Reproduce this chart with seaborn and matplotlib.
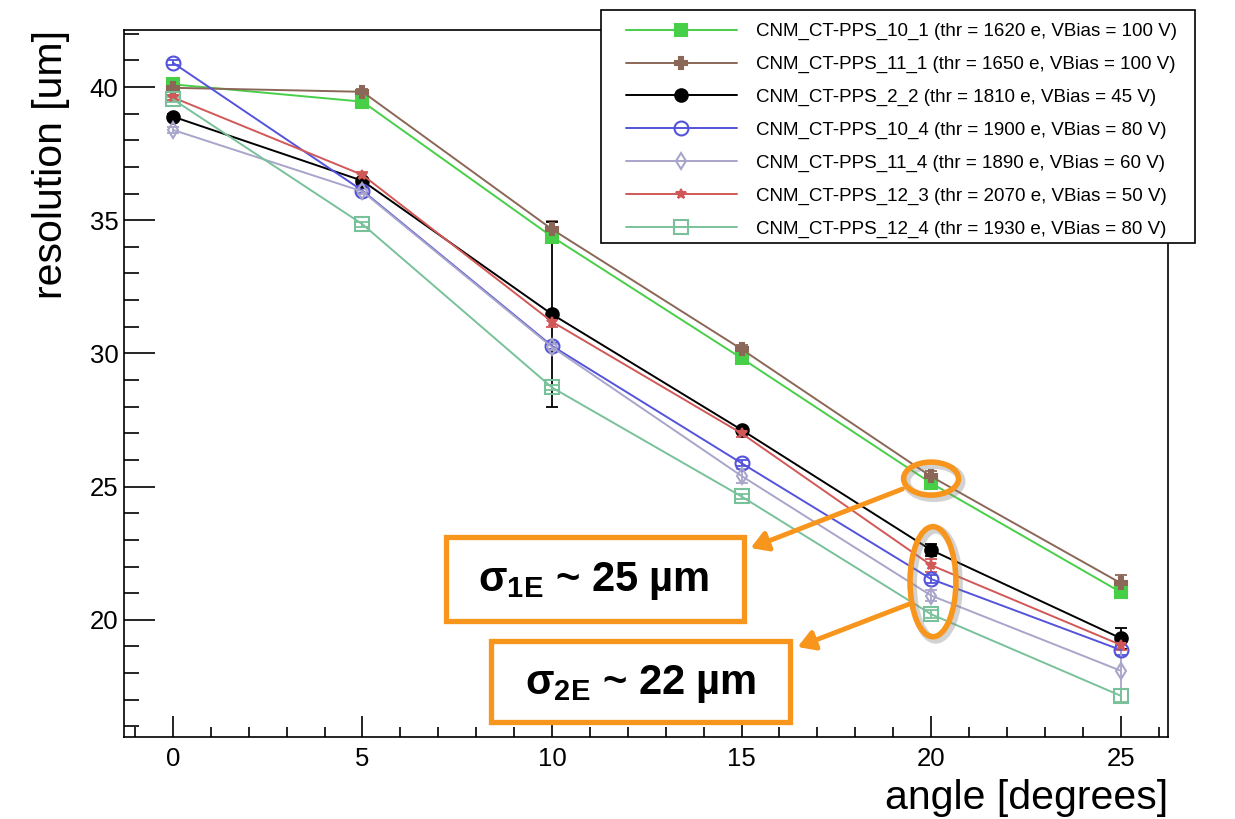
import matplotlib
matplotlib.use("Agg")
import matplotlib.pyplot as plt
import matplotlib.patheffects as pe
from matplotlib.patches import Ellipse, Rectangle, FancyArrowPatch
from matplotlib.ticker import MultipleLocator
import seaborn as sns
import pandas as pd

# ---------------- data ----------------
angles = [0, 5, 10, 15, 20, 25]

series_names = [
    "CNM_CT-PPS_10_1 (thr = 1620 e, VBias = 100 V)",
    "CNM_CT-PPS_11_1 (thr = 1650 e, VBias = 100 V)",
    "CNM_CT-PPS_2_2 (thr = 1810 e, VBias = 45 V)",
    "CNM_CT-PPS_10_4 (thr = 1900 e, VBias = 80 V)",
    "CNM_CT-PPS_11_4 (thr = 1890 e, VBias = 60 V)",
    "CNM_CT-PPS_12_3 (thr = 2070 e, VBias = 50 V)",
    "CNM_CT-PPS_12_4 (thr = 1930 e, VBias = 80 V)",
]

res_10_1 = [40.10, 39.45, 34.38, 29.82, 25.13, 21.04]
res_11_1 = [39.97, 39.82, 34.66, 30.16, 25.38, 21.38]
res_2_2  = [38.89, 36.48, 31.47, 27.13, 22.62, 19.31]
res_10_4 = [40.91, 36.11, 30.28, 25.88, 21.53, 18.87]
res_11_4 = [38.39, 36.08, 30.24, 25.40, 20.91, 18.09]
res_12_3 = [39.61, 36.70, 31.19, 27.00, 22.05, 19.06]
res_12_4 = [39.54, 34.85, 28.72, 24.63, 20.21, 17.15]

err_10_1 = [0.10, 0.10, 0.15, 0.12, 0.15, 0.15]
err_11_1 = [0.10, 0.10, 0.30, 0.15, 0.20, 0.30]
err_2_2  = [0.10, 0.10, 3.48, 0.10, 0.22, 0.40]
err_10_4 = [0.10, 0.10, 0.10, 0.10, 0.15, 0.20]
err_11_4 = [0.10, 0.10, 0.10, 0.25, 0.20, 1.20]
err_12_3 = [0.10, 0.10, 0.20, 0.15, 0.25, 0.20]
err_12_4 = [0.10, 0.10, 0.10, 0.10, 0.15, 0.25]

values = [res_10_1, res_11_1, res_2_2, res_10_4, res_11_4, res_12_3, res_12_4]
errors = [err_10_1, err_11_1, err_2_2, err_10_4, err_11_4, err_12_3, err_12_4]

colors = ["#48cf48", "#8b6757", "#000000", "#5353dc", "#a8a5ca", "#d25858", "#79c19a"]
markers = ["s", "P", "o", "o", "d", "*", "s"]
filled = [True, True, True, False, False, True, False]
msizes = [9, 9, 9, 10, 8, 7, 10]

xlabel = "angle [degrees]"
ylabel = "resolution [um]"
box_texts = [r"σ$_{\mathbf{1E}}$ ~ 25 µm", r"σ$_{\mathbf{2E}}$ ~ 22 µm"]
orange = "#f7951d"

# ---------------- style ----------------
sns.set_theme(style="white")
plt.rcParams["font.family"] = ["Liberation Sans", "DejaVu Sans"]
plt.rcParams["mathtext.fontset"] = "custom"
plt.rcParams["mathtext.rm"] = "Liberation Sans:bold"
plt.rcParams["mathtext.it"] = "Liberation Sans:bold"
plt.rcParams["mathtext.bf"] = "Liberation Sans:bold"
for k in ["text.color", "axes.labelcolor", "xtick.color", "ytick.color"]:
    plt.rcParams[k] = "black"

W, H = 1235, 819
fig = plt.figure(figsize=(W / 100, H / 100), dpi=100)
ax = fig.add_axes([124 / W, 1 - 737 / H, (1168 - 124) / W, (737 - 30) / H])

rows = []
for name, vals in zip(series_names, values):
    for a, v in zip(angles, vals):
        rows.append({"angle": a, "res": v, "series": name})
df = pd.DataFrame(rows)

handles = []
for i, name in enumerate(series_names):
    sub = df[df["series"] == name]
    ax.errorbar(sub["angle"], sub["res"], yerr=errors[i], fmt="none",
                ecolor=colors[i], elinewidth=1.3, capsize=4, capthick=1.3, zorder=2)
    sns.lineplot(data=sub, x="angle", y="res", ax=ax, color=colors[i],
                 marker=markers[i], markersize=msizes[i],
                 markerfacecolor=colors[i] if filled[i] else "none",
                 markeredgecolor=colors[i], markeredgewidth=1.5,
                 linewidth=1.4, label=name, legend=False, zorder=3)
    handles.append(ax.lines[-1])

ax.set_xlim(-1.29, 26.25)
ax.set_ylim(15.6, 42.14)
ax.xaxis.set_major_locator(MultipleLocator(5))
ax.xaxis.set_minor_locator(MultipleLocator(1))
ax.yaxis.set_major_locator(MultipleLocator(5))
ax.yaxis.set_minor_locator(MultipleLocator(1))
ax.tick_params(axis="x", which="major", direction="in", length=15, width=1.2,
               labelsize=18.5, pad=7, bottom=True, top=False)
ax.tick_params(axis="x", which="minor", direction="in", length=7.5, width=1.2,
               bottom=True, top=False)
ax.tick_params(axis="y", which="major", direction="in", length=22, width=1.2,
               labelsize=18.5, pad=4, left=True, right=False)
ax.tick_params(axis="y", which="minor", direction="in", length=11, width=1.2,
               left=True, right=False)
for s in ax.spines.values():
    s.set_color("black")
    s.set_linewidth(1.2)

ax.set_xlabel(xlabel, fontsize=29.5, loc="right", labelpad=6)
ax.set_ylabel(ylabel, fontsize=29.5, loc="top", labelpad=14)

# legend: frame drawn separately so the handles can be inset like ROOT's
fig.add_artist(Rectangle((601 / W, 1 - 243 / H), (1195 - 601) / W, (243 - 10) / H,
                         transform=fig.transFigure, fill=True, facecolor="white",
                         edgecolor="black", linewidth=1.2, zorder=4))
leg = fig.legend(handles, series_names, loc="upper left",
                 bbox_to_anchor=(613 / W, 1 - 10 / H), fontsize=13.5,
                 frameon=False, handlelength=5.9, handletextpad=1.05,
                 labelspacing=0.83, borderpad=0.7, borderaxespad=0)
leg.set_zorder(5)

# ---------------- annotations ----------------
shadow = [pe.SimpleLineShadow(offset=(2, -2), shadow_color="gray", alpha=0.35, linewidth=6), pe.Normal()]
e1 = Ellipse((20.0, 25.3), 1.45, 1.24, fill=False, edgecolor=orange, linewidth=4, zorder=6)
e2 = Ellipse((20.05, 21.43), 1.21, 4.13, fill=False, edgecolor=orange, linewidth=4, zorder=6)
for e in (e1, e2):
    e.set_path_effects(shadow)
    ax.add_patch(e)

for (x0, y0, w, h) in [(446, 537, 298, 84), (491, 641, 299, 81)]:
    r = Rectangle((x0 / W, 1 - (y0 + h) / H), w / W, h / H,
                  transform=fig.transFigure, fill=True, facecolor="white",
                  edgecolor=orange, linewidth=3.8, zorder=5)
    fig.add_artist(r)

fig.text(594 / W, 1 - 581 / H, box_texts[0], fontsize=30,
         fontweight="bold", ha="center", va="center", zorder=10)
fig.text(641 / W, 1 - 684 / H, box_texts[1], fontsize=30,
         fontweight="bold", ha="center", va="center", zorder=10)

for (xa, ya, xb, yb) in [(905, 488, 748, 549), (912, 603, 795, 648)]:
    arr = FancyArrowPatch((xa / W, 1 - ya / H), (xb / W, 1 - yb / H),
                          transform=fig.transFigure, arrowstyle="-|>,head_length=10,head_width=6",
                          color=orange, linewidth=3.5, zorder=7)
    fig.add_artist(arr)

fig.savefig("out.png", dpi=100)
